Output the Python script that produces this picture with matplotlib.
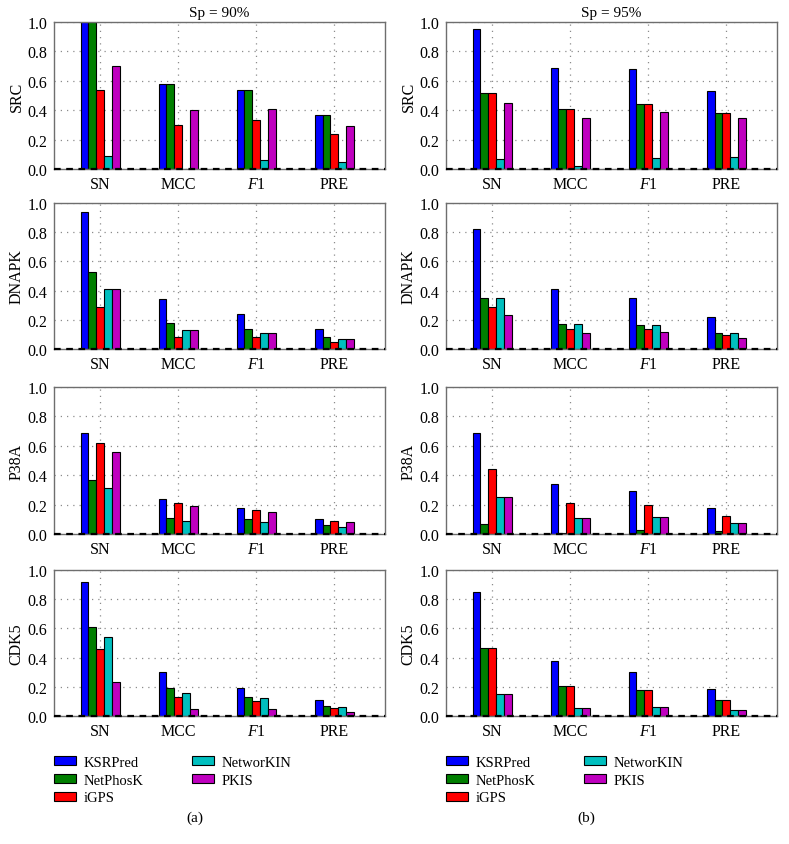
import numpy as np
import matplotlib as mpl
mpl.use('Agg')
import matplotlib.pyplot as plt

plt.rcParams['font.family'] = ['Liberation Serif', 'DejaVu Serif']
plt.rcParams['mathtext.fontset'] = 'custom'
plt.rcParams['mathtext.rm'] = 'Liberation Serif'
plt.rcParams['mathtext.it'] = 'Liberation Serif:italic'

metrics = ['SN', 'MCC', '$F$1', 'PRE']
methods = ['KSRPred', 'NetPhosK', 'iGPS', 'NetworKIN', 'PKIS']
colors = ['#0000ff', '#007f00', '#ff0000', '#00bfbf', '#bf00bf']
kinases = ['SRC', 'DNAPK', 'P38A', 'CDK5']

# rows = metric (SN, MCC, F1, PRE), cols = method
src_90 = [[1.00, 1.00, 0.54, 0.09, 0.70],
          [0.58, 0.58, 0.30, 0.00, 0.40],
          [0.54, 0.54, 0.33, 0.06, 0.41],
          [0.37, 0.37, 0.24, 0.05, 0.29]]
dnapk_90 = [[0.94, 0.53, 0.29, 0.41, 0.41],
            [0.34, 0.18, 0.08, 0.13, 0.13],
            [0.24, 0.14, 0.08, 0.11, 0.11],
            [0.14, 0.08, 0.05, 0.07, 0.07]]
p38a_90 = [[0.69, 0.37, 0.62, 0.31, 0.56],
           [0.24, 0.11, 0.21, 0.09, 0.19],
           [0.18, 0.10, 0.16, 0.08, 0.15],
           [0.10, 0.06, 0.09, 0.05, 0.08]]
cdk5_90 = [[0.92, 0.61, 0.46, 0.54, 0.23],
           [0.30, 0.19, 0.13, 0.16, 0.05],
           [0.19, 0.13, 0.10, 0.12, 0.05],
           [0.11, 0.07, 0.055, 0.065, 0.03]]

src_95 = [[0.95, 0.52, 0.52, 0.07, 0.45],
          [0.69, 0.41, 0.41, 0.02, 0.35],
          [0.68, 0.44, 0.44, 0.075, 0.39],
          [0.53, 0.38, 0.38, 0.08, 0.345]]
dnapk_95 = [[0.82, 0.35, 0.29, 0.35, 0.23],
            [0.41, 0.17, 0.14, 0.17, 0.11],
            [0.35, 0.165, 0.14, 0.165, 0.115],
            [0.22, 0.11, 0.095, 0.11, 0.075]]
p38a_95 = [[0.69, 0.065, 0.44, 0.25, 0.25],
           [0.34, 0.007, 0.21, 0.11, 0.11],
           [0.29, 0.027, 0.195, 0.117, 0.117],
           [0.18, 0.018, 0.125, 0.075, 0.075]]
cdk5_95 = [[0.85, 0.465, 0.465, 0.15, 0.15],
           [0.38, 0.205, 0.205, 0.053, 0.053],
           [0.30, 0.177, 0.177, 0.06, 0.06],
           [0.183, 0.107, 0.107, 0.04, 0.04]]

panels = [[src_90, src_95], [dnapk_90, dnapk_95], [p38a_90, p38a_95], [cdk5_90, cdk5_95]]
titles = ['Sp = 90%', 'Sp = 95%']

W, H = 789, 845
fig = plt.figure(figsize=(W / 100, H / 100), dpi=100)

lefts = [54, 446]
axw = 331
rows_px = [(23, 170), (204, 350), (388, 535), (571, 717)]

x = np.arange(len(metrics))
bw = 0.1
for r in range(4):
    top, bot = rows_px[r]
    for c in range(2):
        ax = fig.add_axes([lefts[c] / W, 1 - bot / H, axw / W, (bot - top) / H])
        data = np.array(panels[r][c])
        for m in range(len(methods)):
            ax.bar(x + (m - 2) * bw, data[:, m], bw, color=colors[m],
                   edgecolor='black', linewidth=0.8, label=methods[m], zorder=2)
        # dashed zero line
        ax.axhline(0, color='black', ls=(0, (3, 2.5)), lw=1.6, zorder=5, clip_on=False)
        ax.set_xlim(-0.59, 3.65)
        ax.set_ylim(0, 1.0)
        ax.set_yticks(np.arange(0, 1.01, 0.2))
        ax.set_yticklabels(['%.1f' % v for v in np.arange(0, 1.01, 0.2)])
        ax.set_xticks(x)
        ax.set_xticklabels(metrics)
        ax.tick_params(labelsize=11.5, length=0, pad=5)
        ax.grid(True, color='#8c8c8c', linestyle=(0, (1, 4)), linewidth=0.9, zorder=0)
        ax.set_axisbelow(True)
        for s in ax.spines.values():
            s.set_color('#6e6e6e')
            s.set_linewidth(1.0)
        ax.set_ylabel(kinases[r], fontsize=11.5, labelpad=2)
        if r == 0:
            ax.set_title(titles[c], fontsize=11, pad=4)
        if r == 3:
            handles, labels = ax.get_legend_handles_labels()
            fig.legend(handles, labels, loc='upper left',
                       bbox_to_anchor=(lefts[c] / W, 1 - 757 / H),
                       ncol=2, frameon=False, fontsize=10.5, borderpad=0,
                       borderaxespad=0, handlelength=1.5, handleheight=0.6,
                       handletextpad=0.55, labelspacing=0.32, columnspacing=3.3)
            fig.text((lefts[c] + axw / 2 - 25) / W, 1 - 818 / H, '(a)' if c == 0 else '(b)',
                     ha='center', va='center', fontsize=11)

plt.savefig('out.png', dpi=100)
plt.close('all')
